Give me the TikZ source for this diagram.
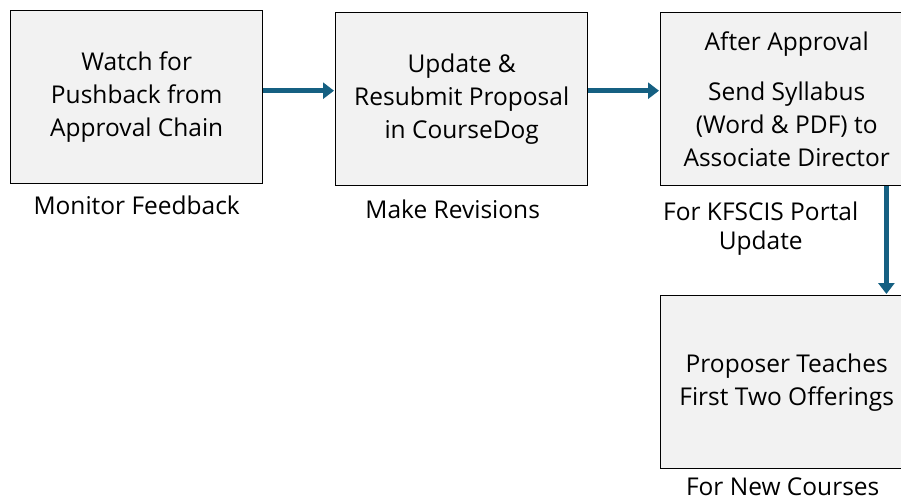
\documentclass[tikz,border=0pt]{standalone}
\usepackage{fontspec}
\setmainfont{Open Sans}
\usetikzlibrary{arrows.meta,calc,positioning}
\definecolor{flowblue}{RGB}{21,96,130}
\definecolor{stepgray}{RGB}{242,242,242}

\begin{document}
\begin{tikzpicture}[
    x=1pt, y=-1pt,
    font=\fontsize{24.5}{33}\selectfont,
    stepbox/.style={draw=black, line width=1.4pt, fill=stepgray, align=center, minimum width=252pt, minimum height=173pt, inner sep=0pt, anchor=north west},
    caption/.style={align=center, inner sep=0pt, anchor=base, font=\fontsize{24.5}{29}\selectfont},
    flow/.style={-{Triangle[length=11pt, width=16pt]}, line width=5pt, draw=flowblue, shorten >=1pt}
]
\clip (0,0) rectangle (901,500);
\node[stepbox] (watch) at (10,10) {Watch for\\Pushback from\\Approval Chain};
\node[stepbox] (resubmit) at (335,12) {Update \&\\Resubmit Proposal\\in CourseDog};
\node[stepbox] (approval) at (660,12) {After Approval\\[17pt]Send Syllabus\\(Word \& PDF) to\\Associate Director};
\node[stepbox] (offerings) at (660,295) {Proposer Teaches\\First Two Offerings};

\node[caption] (monitor) at ([yshift=-30pt]watch.south) {Monitor Feedback};
\node[caption] (revisions) at ([xshift=-9pt, yshift=-32pt]resubmit.south) {Make Revisions};
\node[caption] (portal) at ([xshift=-26pt, yshift=-63pt]approval.south) {For KFSCIS Portal\\Update};
\node[caption] (newcourses) at ([xshift=-4pt, yshift=-26pt]offerings.south) {For New Courses};

\draw[flow] ([yshift=6.5pt]watch.east) -- ([yshift=8.5pt]resubmit.west);
\draw[flow] ([yshift=8.5pt]resubmit.east) -- ([yshift=8.5pt]approval.west);
\draw[flow] ([xshift=-27pt]approval.south east) -- ([xshift=-27pt]offerings.north east);
\end{tikzpicture}
\end{document}
